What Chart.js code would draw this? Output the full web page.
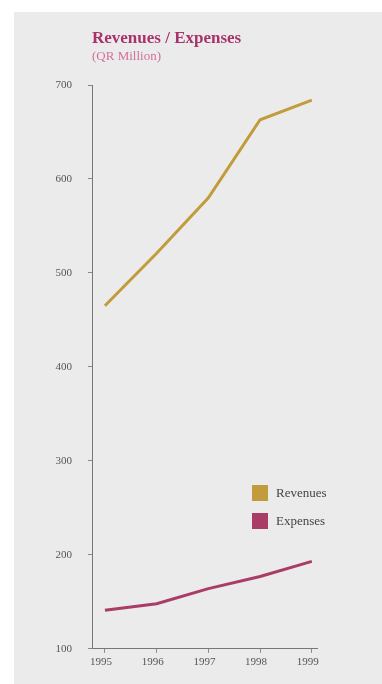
<!DOCTYPE html>
<html>
<head>
<meta charset="utf-8">
<script src="https://cdn.jsdelivr.net/npm/chart.js@4"></script>
<style>
  html, body { margin: 0; padding: 0; background: #ffffff; }
  #panel { position: absolute; left: 14px; top: 12px; width: 368px; height: 672px; background: #ebebeb; }
</style>
</head>
<body>
<div id="panel"><canvas id="chartJSContainer" width="368" height="672"></canvas></div>
<script>
// revenues / expenses, QR million
var years = [1995, 1996, 1997, 1998, 1999];
var revenues = [465, 521, 580, 663, 684];
var expenses = [141, 148, 164, 177, 193];
var yTicks = [100, 200, 300, 400, 500, 600, 700];

function points(vals) {
  return years.map(function (yr, i) { return { x: yr, y: vals[i] }; });
}

// legend drawn inside the plot, lower right
var boxLegend = {
  id: 'boxLegend',
  afterDraw: function (chart) {
    var ctx = chart.ctx;
    var a = chart.chartArea;
    ctx.save();
    chart.data.datasets.forEach(function (ds, i) {
      var x = a.left + 160;
      var y = a.top + 400 + i * 28;
      ctx.fillStyle = ds.borderColor;
      ctx.fillRect(x, y, 16, 16);
      ctx.fillStyle = '#444';
      ctx.font = '13px "Liberation Serif", serif';
      ctx.textBaseline = 'middle';
      ctx.fillText(ds.label, x + 24, y + 9);
    });
    ctx.restore();
  }
};

var options = {
  type: 'line',
  data: {
    datasets: [
      {
        label: 'Revenues',
        data: points(revenues),
        borderColor: '#c29c3c',
        borderWidth: 3,
        pointRadius: 0,
        tension: 0
      },
      {
        label: 'Expenses',
        data: points(expenses),
        borderColor: '#a93d68',
        borderWidth: 3,
        pointRadius: 0,
        tension: 0
      }
    ]
  },
  options: {
    responsive: false,
    animation: false,
    layout: { padding: { left: 0, right: 65, top: 0, bottom: 12 } },
    plugins: {
      legend: { display: false },
      tooltip: { enabled: false },
      title: {
        display: true,
        text: 'Revenues / Expenses',
        align: 'start',
        fullSize: false,
        color: '#a8336a',
        font: { family: '"Liberation Serif", serif', size: 17, weight: 'bold' },
        padding: { top: 16, bottom: 0 }
      },
      subtitle: {
        display: true,
        text: '(QR Million)',
        align: 'start',
        fullSize: false,
        color: '#d4709a',
        font: { family: '"Liberation Serif", serif', size: 13 },
        padding: { top: 0, bottom: 21 }
      }
    },
    scales: {
      x: {
        type: 'linear',
        min: 1994.75,
        max: 1999.1,
        afterBuildTicks: function (s) { s.ticks = years.map(function (v) { return { value: v }; }); },
        grid: { drawOnChartArea: false, tickLength: 4, color: '#888' },
        border: { color: '#777', width: 1 },
        ticks: {
          padding: 3,
          labelOffset: -4,
          color: '#555',
          font: { family: '"Liberation Serif", serif', size: 11 },
          callback: function (v) { return String(v); }
        }
      },
      y: {
        min: 100,
        max: 700,
        afterBuildTicks: function (s) { s.ticks = yTicks.map(function (v) { return { value: v }; }); },
        afterFit: function (s) { s.width = 78; },
        grid: { drawOnChartArea: false, tickLength: 4, color: '#888' },
        border: { color: '#777', width: 1 },
        ticks: {
          padding: 16,
          color: '#555',
          font: { family: '"Liberation Serif", serif', size: 11 }
        }
      }
    }
  },
  plugins: [boxLegend]
};

var ctx = document.getElementById('chartJSContainer');
var myLineChart = new Chart(ctx, options);
</script>
</body>
</html>
